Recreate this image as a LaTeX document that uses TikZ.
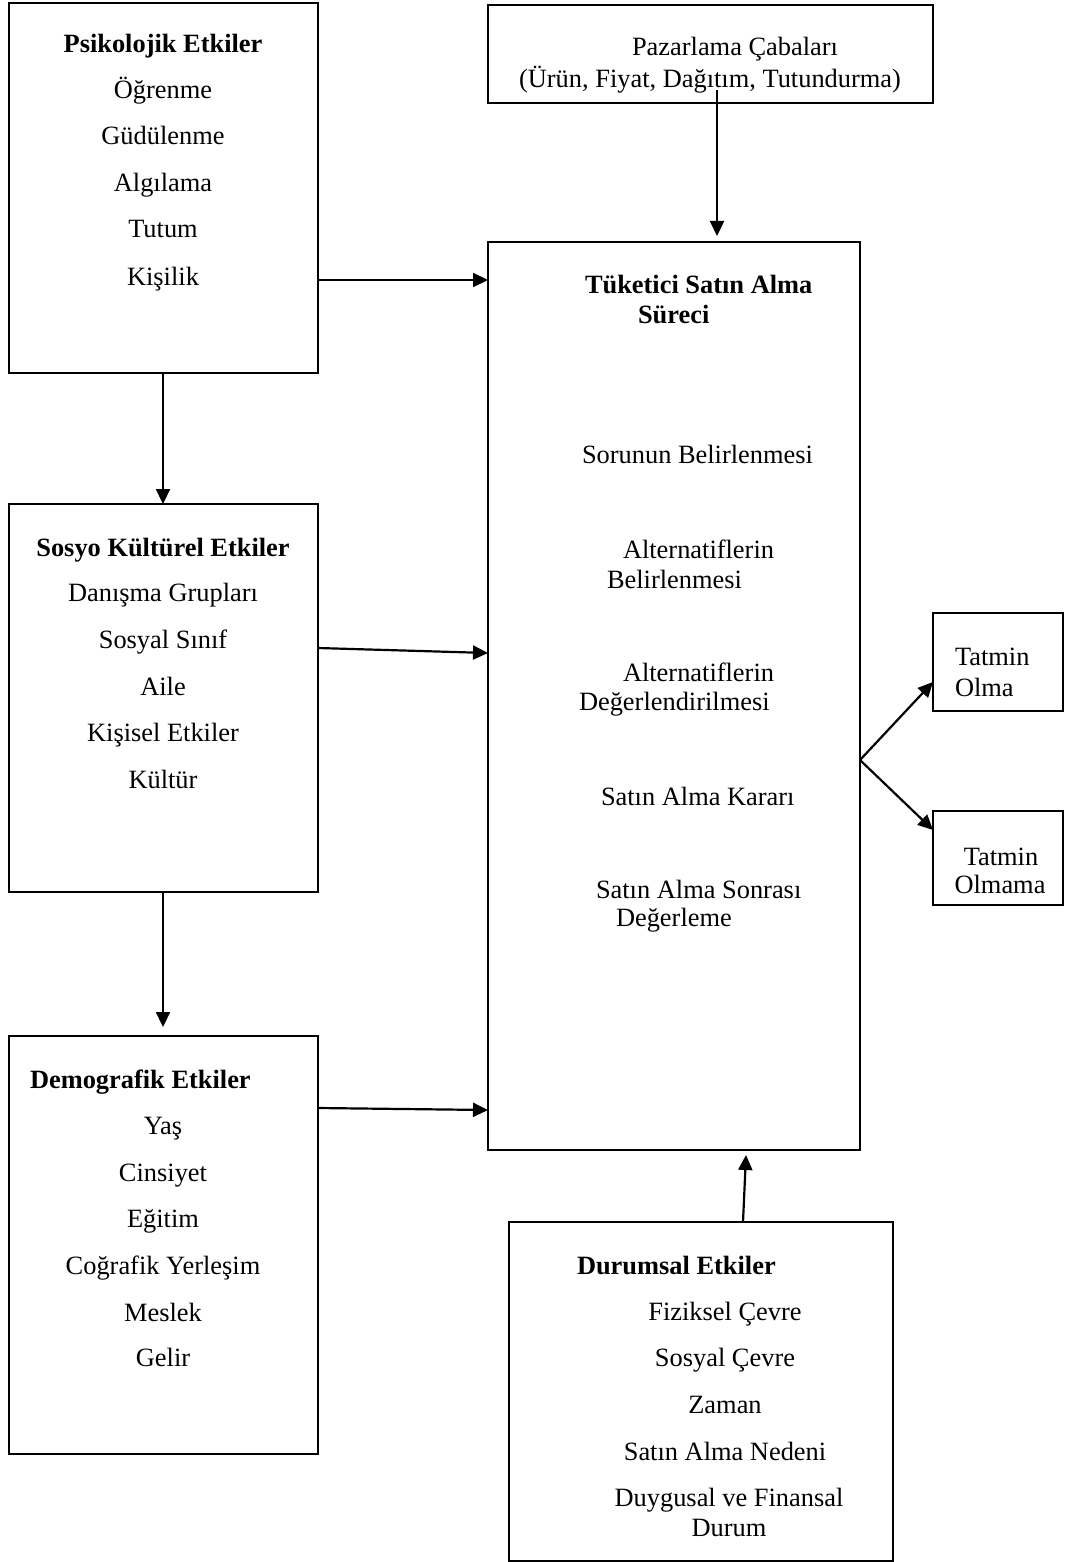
\documentclass[tikz,border=0pt]{standalone}
\usepackage{fontspec}
\setmainfont{Liberation Serif}
\usetikzlibrary{arrows.meta,calc}
\begin{document}
\begin{tikzpicture}[x=1pt,y=-1pt,
  box/.style={draw=black,line width=2.2pt,rectangle,inner sep=0pt,outer sep=0pt,anchor=north west},
  txt/.style={inner sep=0pt,outer sep=0pt,font=\fontsize{26.4}{30}\selectfont},
  ttl/.style={txt,font=\fontsize{26.4}{30}\selectfont\bfseries},
  arr/.style={line width=2.2pt,-{Triangle[length=15pt,width=14pt]}}]
\useasboundingbox (0,0) rectangle (1065,1562);
\fill[white] (0,0) rectangle (1065,1562);

% boxes
\node[box,minimum width=309pt,minimum height=370pt] (psi) at (9,3) {};
\node[box,minimum width=309pt,minimum height=388pt] (sos) at (9,504) {};
\node[box,minimum width=309pt,minimum height=418pt] (dem) at (9,1036) {};
\node[box,minimum width=445pt,minimum height=98pt] (paz) at (488,5) {};
\node[box,minimum width=372pt,minimum height=908pt] (tuk) at (488,242) {};
\node[box,minimum width=130pt,minimum height=98pt] (olma) at (933,613) {};
\node[box,minimum width=130pt,minimum height=94pt] (olmama) at (933,811) {};
\node[box,minimum width=384pt,minimum height=339pt] (dur) at (509,1222) {};

% Psikolojik
\node[ttl,anchor=base] (psiT) at (163,53) {Psikolojik Etkiler};
\foreach \t/\y [count=\i] in {Öğrenme/99,Güdülenme/145,Algılama/192,Tutum/238,Kişilik/285}
  \node[txt,anchor=base] (psi\i) at (163,\y) {\t};

% Sosyo
\node[ttl,anchor=base] (sosT) at (163,556) {Sosyo Kültürel Etkiler};
\foreach \t/\y [count=\i] in {Danışma Grupları/601,Sosyal Sınıf/648,Aile/695,Kişisel Etkiler/741,Kültür/788}
  \node[txt,anchor=base] (sos\i) at (163,\y) {\t};

% Demografik
\node[ttl,anchor=base west] (demT) at (30,1088) {Demografik Etkiler};
\foreach \t/\y [count=\i] in {Yaş/1134,Cinsiyet/1181,Eğitim/1227,Coğrafik Yerleşim/1274,Meslek/1321,Gelir/1366}
  \node[txt,anchor=base] (dem\i) at (163,\y) {\t};

% Pazarlama
\node[txt,anchor=base] (paz1) at (735,56) {Pazarlama Çabaları};
\node[txt,anchor=base] (paz2) at (710,88) {(Ürün, Fiyat, Dağıtım, Tutundurma)};

% Tuketici
\node[ttl,anchor=base west] (tukT1) at (585,293) {Tüketici Satın Alma};
\node[ttl,anchor=base west] (tukT2) at (638,323) {Süreci};
\node[txt,anchor=base west] (tuk1) at (582,463) {Sorunun Belirlenmesi};
\node[txt,anchor=base west] (tuk2a) at (623,558) {Alternatiflerin};
\node[txt,anchor=base west] (tuk2b) at (607,588) {Belirlenmesi};
\node[txt,anchor=base west] (tuk3a) at (623,681) {Alternatiflerin};
\node[txt,anchor=base west] (tuk3b) at (579,710) {Değerlendirilmesi};
\node[txt,anchor=base west] (tuk4) at (601,805) {Satın Alma Kararı};
\node[txt,anchor=base west] (tuk5a) at (596,898) {Satın Alma Sonrası};
\node[txt,anchor=base west] (tuk5b) at (616,926) {Değerleme};

% Tatmin
\node[txt,anchor=base west] (olma1) at (955,665) {Tatmin};
\node[txt,anchor=base west] (olma2) at (955,696) {Olma};
\node[txt,anchor=base] (olmama1) at (1001,865) {Tatmin};
\node[txt,anchor=base] (olmama2) at (1000,893) {Olmama};

% Durumsal
\node[ttl,anchor=base west] (durT) at (577,1274) {Durumsal Etkiler};
\foreach \t/\y [count=\i] in {Fiziksel Çevre/1320,Sosyal Çevre/1366,Zaman/1413,Satın Alma Nedeni/1460}
  \node[txt,anchor=base] (dur\i) at (725,\y) {\t};
\node[txt,anchor=base] (dur5) at (729,1506) {Duygusal ve Finansal};
\node[txt,anchor=base] (dur6) at (729,1536) {Durum};

% connectors
\coordinate (split) at (tuk.east |- 0,760);
\draw[arr] (psi.east |- 0,280) -- (tuk.west |- 0,280);
\draw[arr] (psi.south -| 163,0) -- (sos.north -| 163,0);
\draw[arr] (sos.east |- 0,648) -- (tuk.west |- 0,653);
\draw[arr] (sos.south -| 163,0) -- ($(dem.north -| 163,0)+(0,-9)$);
\draw[arr] (dem.east |- 0,1108) -- (tuk.west |- 0,1110);
\draw[arr] (717,90) -- ($(tuk.north -| 717,0)+(0,-6)$);
\draw[arr] (dur.north -| 743,0) -- ($(tuk.south -| 746,0)+(0,5)$);
\draw[arr] (split) -- (olma.west |- 0,682);
\draw[arr] (split) -- (olmama.west |- 0,830);
\end{tikzpicture}
\end{document}
